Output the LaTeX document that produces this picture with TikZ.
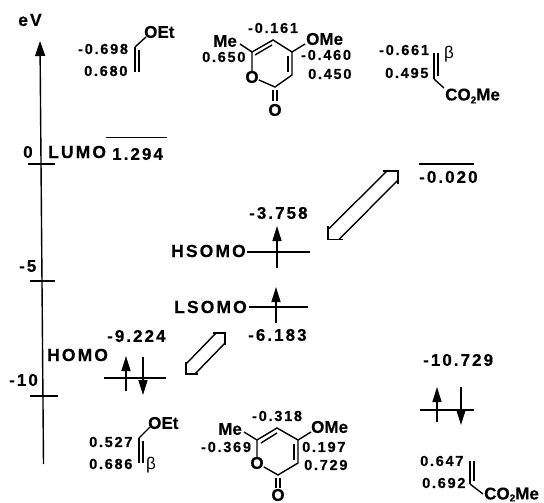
\documentclass[tikz,border=0pt]{standalone}
\usepackage{fontspec}
\setmainfont{Liberation Sans}
\newfontfamily\numfont{Liberation Sans}[LetterSpace=12,BoldFeatures={FakeBold=0.4}]
\newfontfamily\atomfont{Liberation Sans}[BoldFeatures={FakeBold=0.4}]
\usetikzlibrary{arrows.meta}
\tikzset{
  x=1pt,y=-1pt,
  num/.style={anchor=west,inner sep=0pt,font=\numfont\bfseries\fontsize{14.5}{14.5}\selectfont},
  axislab/.style={anchor=west,inner sep=0pt,font=\numfont\bfseries\fontsize{17}{17}\selectfont},
  caplab/.style={anchor=west,inner sep=0pt,font=\numfont\bfseries\fontsize{17.5}{17.5}\selectfont},
  atom/.style={anchor=west,inner sep=0pt,font=\atomfont\bfseries\fontsize{17}{17}\selectfont},
  greek/.style={anchor=west,inner sep=0pt,font=\fontsize{17}{17}\selectfont},
  bond/.style={line width=1.4pt,black},
  level/.style={line width=1.6pt,black},
  elec/.style={line width=1.4pt,black,-{Triangle[length=15pt,width=9pt]}},
  open/.style={line width=1.4pt,black,line join=miter}
}
\begin{document}
\begin{tikzpicture}
\useasboundingbox (0,0) rectangle (544,503);
% axis
\coordinate (axb) at (43.5,464); \coordinate (axt) at (40,41);
\draw[line width=1.4pt,-{Triangle[length=15pt,width=10pt]}] (axb) -- (axt);
\coordinate (t0a) at (28,164); \coordinate (t0b) at (55,164);
\coordinate (t5a) at (30,281); \coordinate (t5b) at (55,281);
\coordinate (t10a) at (30,396); \coordinate (t10b) at (58,396);
\draw[level] (t0a) -- (t0b); \draw[level] (t5a) -- (t5b); \draw[level] (t10a) -- (t10b);
\node[caplab] (ev) at (18,20) {eV};
\node[axislab] (l0) at (23,152) {0};
\node[axislab] (l5) at (19,266) {-5};
\node[axislab] (l10) at (9,380) {-10};
% labels on the diagram
\node[caplab] (lumo) at (48,152) {LUMO};
\node[axislab] (v1294) at (112,154) {1.294};
\coordinate (la) at (106,137.5); \coordinate (lb) at (167,137.5);
\draw[level] (la) -- (lb);
\node[caplab] (homo) at (47,355) {HOMO};
\node[axislab] (v9224) at (107,336) {-9.224};
\coordinate (ha) at (104,378); \coordinate (hb) at (166,378);
\draw[level] (ha) -- (hb);
\coordinate (hu1) at (126,391); \coordinate (hu2) at (126,356);
\coordinate (hd1) at (143,357); \coordinate (hd2) at (143,395);
\draw[elec] (hu1) -- (hu2); \draw[elec] (hd1) -- (hd2);
% SOMO
\node[caplab] (hsomo) at (171,251) {HSOMO};
\node[axislab] (v3758) at (249,213) {-3.758};
\coordinate (hsa) at (247,252); \coordinate (hsb) at (310,252);
\draw[level] (hsa) -- (hsb);
\coordinate (hs1) at (277,268); \coordinate (hs2) at (277,226);
\draw[elec] (hs1) -- (hs2);
\node[caplab] (lsomo) at (174,307) {LSOMO};
\node[axislab] (v6183) at (248,335) {-6.183};
\coordinate (lsa) at (249,307); \coordinate (lsb) at (308,307);
\draw[level] (lsa) -- (lsb);
\coordinate (ls1) at (276,323); \coordinate (ls2) at (276,287);
\draw[elec] (ls1) -- (ls2);
% right levels
\coordinate (ra) at (419,164); \coordinate (rb) at (474,164);
\draw[level] (ra) -- (rb);
\node[axislab] (v0020) at (419,177) {-0.020};
\node[axislab] (v10729) at (423,360) {-10.729};
\coordinate (rla) at (420,410); \coordinate (rlb) at (474,410);
\draw[level] (rla) -- (rlb);
\coordinate (ru1) at (437,422); \coordinate (ru2) at (437,387);
\coordinate (rd1) at (461,387); \coordinate (rd2) at (461,425);
\draw[elec] (ru1) -- (ru2); \draw[elec] (rd1) -- (rd2);
% big open arrow
\draw[open] (383,171) -- (398,171) -- (398,184);
\draw[open] (343,239.5) -- (328,239.5) -- (328,226);
\draw[open] (387,171) -- (328.5,229);
\draw[open] (398,180) -- (339,239.5);
% small open arrow
\draw[open] (213,333) -- (225,333) -- (225,345);
\draw[open] (198,374) -- (186,374) -- (186,362);
\draw[open] (216,333) -- (186,364);
\draw[open] (225,343) -- (195,374);
% ethyl vinyl ether, top
\node[atom] (oet1) at (144,32) {OEt};
\node[num] at (78,49) {-0.698};
\node[num] at (84,71) {0.680};
\coordinate (e1a) at (135,47); \coordinate (e1b) at (135,72);
\coordinate (e1c) at (139,50); \coordinate (e1d) at (139,72);
\draw[bond] (e1a) -- (e1b); \draw[bond] (e1c) -- (e1d);
\draw[bond] (e1a) -- (146,37);
% pyranone, top
\node[atom] (me1) at (213,41) {Me};
\node[num] at (202,57) {0.650};
\node[num] at (248,28) {-0.161};
\node[atom] (ome1) at (306,39) {OMe};
\node[num] at (301,55) {-0.460};
\node[num] at (308,74) {0.450};
\node[atom,anchor=center] (o1a) at (252,77) {O};
\node[atom,anchor=center] (o1b) at (275,110) {O};
\coordinate (a6) at (252,52); \coordinate (a5) at (273,40); \coordinate (a4) at (292,52);
\coordinate (a3) at (292,75); \coordinate (a2) at (275,87);
\draw[bond] (o1a) -- (a6) -- (a5) -- (a4) -- (a3) -- (a2) -- (o1a);
\draw[bond] (255,55) -- (272,45);
\draw[bond] (288,56) -- (288,72);
\draw[bond] (a6) -- (240,44);
\draw[bond] (a4) -- (305,44);
\draw[bond] (273,90) -- (273,101); \draw[bond] (277,90) -- (277,101);
% methyl acrylate, top
\node[num] at (379,50) {-0.661};
\node[num] at (385,73) {0.495};
\node[greek] at (444,54) {β};
\node[atom] (co1) at (445,96) {CO\raisebox{-3pt}{\fontsize{10}{10}\selectfont 2}Me};
\coordinate (m1a) at (434,53); \coordinate (m1b) at (434,79);
\coordinate (m1c) at (438,53); \coordinate (m1d) at (438,76);
\draw[bond] (m1a) -- (m1b); \draw[bond] (m1c) -- (m1d);
\draw[bond] (m1b) -- (444,88);
% ethyl vinyl ether, bottom
\node[atom] (oet2) at (148,423) {OEt};
\node[num] at (89,442) {0.527};
\node[num] at (89,464) {0.686};
\node[greek] at (146,465) {β};
\coordinate (e2a) at (139,438); \coordinate (e2b) at (139,463);
\coordinate (e2c) at (143,441); \coordinate (e2d) at (143,463);
\draw[bond] (e2a) -- (e2b); \draw[bond] (e2c) -- (e2d);
\draw[bond] (e2a) -- (150,427);
% pyranone, bottom
\node[atom] (me2) at (218,429) {Me};
\node[num] at (201,447) {-0.369};
\node[num] at (252,416) {-0.318};
\node[atom] (ome2) at (311,427) {OMe};
\node[num] at (302,447) {0.197};
\node[num] at (304,465) {0.729};
\node[atom,anchor=center] (o2a) at (257,463) {O};
\node[atom,anchor=center] (o2b) at (278,495) {O};
\coordinate (b6) at (257,440); \coordinate (b5) at (277,428); \coordinate (b4) at (298,440);
\coordinate (b3) at (298,463); \coordinate (b2) at (278,475);
\draw[bond] (o2a) -- (b6) -- (b5) -- (b4) -- (b3) -- (b2) -- (o2a);
\draw[bond] (261,443) -- (277,433);
\draw[bond] (294,444) -- (294,460);
\draw[bond] (b6) -- (244,432);
\draw[bond] (b4) -- (311,432);
\draw[bond] (276,478) -- (276,488); \draw[bond] (280,478) -- (280,488);
% methyl acrylate, bottom
\node[num] at (420,461) {0.647};
\node[num] at (422,483) {0.692};
\node[atom] (co2) at (484,494.5) {CO\raisebox{-2pt}{\fontsize{10}{10}\selectfont 2}Me};
\coordinate (m2a) at (470,461); \coordinate (m2b) at (470,484);
\coordinate (m2c) at (474,461); \coordinate (m2d) at (474,481);
\draw[bond] (m2a) -- (m2b); \draw[bond] (m2c) -- (m2d);
\draw[bond] (m2b) -- (483,494);
\end{tikzpicture}
\end{document}
